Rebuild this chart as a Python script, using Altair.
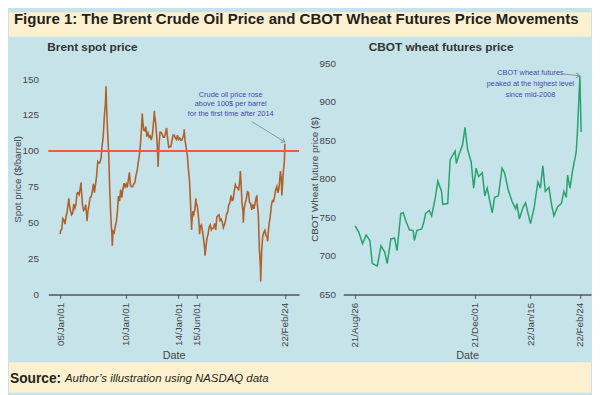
import altair as alt
import pandas as pd

# ---------------- data ----------------
# Brent spot price, monthly mid-month readings 2005-01 .. 2022-01
brent_monthly = [
    44.5, 45.5, 53, 52, 49, 54.5, 57.5, 64, 62.5, 58.5, 55.5, 56.5,          # 2005
    63, 60, 62.5, 70.5, 71, 69.5, 74, 73, 62.5, 58.5, 59.5, 62.5,            # 2006
    54, 58, 62, 67.5, 68, 71.5, 77, 71, 77, 82.5, 92.5, 91.5,                # 2007
    92, 95, 103.5, 110, 123.5, 133, 133, 113, 98, 72, 53, 41,                # 2008
    44, 43, 47, 50.5, 57.5, 68.5, 65, 73, 67.5, 73, 77.5, 75,                # 2009
    77, 74.5, 79.5, 85, 76, 75, 75, 77, 78, 83, 86, 91.5,                    # 2010
    96.5, 104, 114.5, 123, 114.5, 114, 117, 110, 112.5, 109.5, 110.5, 107.5, # 2011
    111, 119.5, 125.5, 119.5, 110.5, 95.5, 103, 113, 113, 111.5, 109.5, 109.5,  # 2012
    112.5, 116, 108.5, 102.5, 103, 103, 107.5, 111, 111, 109, 108, 111,      # 2013
    108, 109, 107.5, 107.5, 109.5, 112, 107, 102, 97, 87.5, 79, 62.5,        # 2014
    48, 58, 56, 59.5, 64.5, 62, 56.5, 47, 47.5, 48.5, 44, 38,                # 2015
    31, 33, 39, 42, 47, 48.5, 45, 46, 46.5, 49.5, 45, 54,                    # 2016
    55, 55.5, 51.5, 52.5, 50.5, 46.5, 48.5, 51.5, 56, 57.5, 62.5, 64,        # 2017
    69, 65.5, 66, 72, 76.5, 74.5, 74.5, 72.5, 78.9, 81, 64.5, 57.5,          # 2018
    59.5, 64, 66, 71.5, 71, 64, 63.5, 59, 62.8, 59.7, 63.2, 67.3,            # 2019
    63.6, 55.7, 32, 18.4, 29.4, 40.3, 43.2, 44.7, 40.9, 40.2, 42.7, 49.9,    # 2020
    54.8, 62.3, 65.4, 64.8, 68.5, 73.2, 75.2, 70.8, 74.5, 83.5, 81, 74.2,    # 2021
    86.5,                                                                    # 2022
]
brent_extra_dates = [
    "2005-01-03", "2005-09-01", "2006-08-08", "2007-01-18", "2008-07-03",
    "2008-12-24", "2011-04-08", "2012-03-13", "2012-06-22", "2014-06-19",
    "2015-01-13", "2015-05-13", "2015-08-24", "2016-01-20", "2018-10-03",
    "2018-12-24", "2020-01-06", "2020-04-21", "2020-11-02", "2021-10-25",
    "2021-12-01", "2022-02-10", "2022-02-24",
]
brent_extra_values = [
    42, 67, 78, 51, 145,
    34, 126, 128, 89, 115,
    45, 67, 42, 27, 86,
    50, 69, 9, 37, 86,
    69, 93, 105,
]

wheat_dates = [
    "2021-08-26", "2021-08-29", "2021-09-01", "2021-09-04", "2021-09-07", "2021-09-09",
    "2021-09-13", "2021-09-16", "2021-09-19", "2021-09-21", "2021-09-24", "2021-09-27",
    "2021-09-29", "2021-10-02", "2021-10-04", "2021-10-06", "2021-10-09", "2021-10-12",
    "2021-10-13", "2021-10-15", "2021-10-19", "2021-10-21", "2021-10-22", "2021-10-25",
    "2021-10-27", "2021-10-30", "2021-11-01", "2021-11-04", "2021-11-05", "2021-11-09",
    "2021-11-11", "2021-11-15", "2021-11-16", "2021-11-18", "2021-11-21", "2021-11-23",
    "2021-11-25", "2021-11-28", "2021-11-30", "2021-12-02", "2021-12-04", "2021-12-07",
    "2021-12-09", "2021-12-11", "2021-12-15", "2021-12-17", "2021-12-20", "2021-12-23",
    "2021-12-25", "2021-12-28", "2021-12-31", "2022-01-03", "2022-01-04", "2022-01-06",
    "2022-01-09", "2022-01-11", "2022-01-15", "2022-01-18", "2022-01-21", "2022-01-23",
    "2022-01-25", "2022-01-27", "2022-01-30", "2022-02-01", "2022-02-03", "2022-02-06",
    "2022-02-09", "2022-02-11", "2022-02-13", "2022-02-14", "2022-02-16", "2022-02-18",
    "2022-02-21", "2022-02-22", "2022-02-24", "2022-02-25",
]
wheat_values = [
    739, 731, 716, 727, 720, 690,
    687, 713, 705, 690, 722, 723,
    707, 755, 756, 746, 734, 733,
    720, 733, 735, 746, 755, 759,
    752, 776, 797, 784, 767, 768,
    825, 836, 820, 831, 844, 867,
    839, 822, 788, 814, 803, 808,
    778, 788, 756, 776, 778, 814,
    808, 786, 771, 761, 768, 748,
    763, 769, 742, 763, 796, 788,
    817, 784, 789, 767, 752, 764,
    768, 784, 776, 805, 788, 810,
    835, 861, 934, 861,
]

brent_xticks = ["2005-01-01", "2010-01-01", "2014-01-01", "2015-06-01", "2022-02-24"]
wheat_xticks = ["2021-08-26", "2021-12-01", "2022-01-15", "2022-02-24"]
brent_yticks = [0, 25, 50, 75, 100, 125, 150]
wheat_yticks = [650, 700, 750, 800, 850, 900, 950]
brent_ref_level = [100]

brent_note_lines = ["Crude oil price rose", "above 100$ per barrel", "for the first time after 2014"]
brent_note_date = "2018-01-06"
brent_note_values = [139.1, 132.4, 125.6]
brent_arrow = {"x1": ["2019-08-18"], "y1": [120.4], "x2": ["2022-02-23"], "y2": [106.2]}

wheat_note_lines = ["CBOT wheat futures", "peaked at the highest level", "since mid-2008"]
wheat_note_date = "2022-01-15"
wheat_note_values = [937.2, 923.2, 908.3]
wheat_arrow = {"x1": ["2022-02-09"], "y1": [936.3], "x2": ["2022-02-23T18:00:00"], "y2": [934.0]}

main_title = "Figure 1: The Brent Crude Oil Price and CBOT Wheat Futures Price Movements"
source_bold = "Source:"
source_rest = "Author\u2019s illustration using NASDAQ data"

# ---------------- styling ----------------
YELLOW = "#fcf0cf"
BLUE = "#c6e3ea"
BROWN = "#b0612b"
GREEN = "#25a36b"
RED = "#ea5a4e"
NOTE = "#4848a8"
ARROW = "#7e97a6"
TXT = "#444444"
FONT = "Liberation Sans"

W1, W2, H = 255, 252, 235


def ms(s):
    return int(pd.Timestamp(s).value // 1_000_000)


monthly_dates = [
    (d + pd.Timedelta(days=14)).strftime("%Y-%m-%d")
    for d in pd.date_range("2005-01-01", periods=len(brent_monthly), freq="MS")
]
brent = pd.DataFrame({
    "date": monthly_dates + brent_extra_dates,
    "value": brent_monthly + brent_extra_values,
}).sort_values("date")
wheat = pd.DataFrame({"date": wheat_dates, "value": wheat_values})

one = pd.DataFrame({"k": [0]})

x_axis_common = dict(
    labelAngle=270, labelPadding=4, tickSize=4, tickColor="#555555", domainColor="#555555",
    domainWidth=1.5, labelFontSize=10, labelColor=TXT, title="Date", titleFontSize=11,
    titleFontWeight="normal", titleColor=TXT, titlePadding=3, zindex=1, labelOverlap=False,
    labelExpr="utcFormat(datum.value, '%y/%b/%d')", grid=False, labelFont=FONT, titleFont=FONT,
)
y_axis_common = dict(
    domain=False, ticks=False, labelFontSize=10, labelColor=TXT, titleFontSize=10,
    titleFontWeight="normal", titleColor=TXT, titlePadding=0, grid=False, zindex=1,
    labelOverlap=False, labelFont=FONT, titleFont=FONT,
)


def px_rect(color, x1, x2, y1, y2):
    return alt.Chart(one).mark_rect(color=color).encode(
        x=alt.value(x1), x2=alt.value(x2), y=alt.value(y1), y2=alt.value(y2)
    )


def px_text(txt, x, y, size, weight="normal", style="normal", align="left", color="#222222"):
    return alt.Chart(one).mark_text(
        text=txt, fontSize=size, fontWeight=weight, fontStyle=style, align=align,
        baseline="middle", color=color, font=FONT,
    ).encode(x=alt.value(x), y=alt.value(y))


# ---------------- left panel ----------------
lx_scale = alt.Scale(domain=[ms("2004-02-06"), ms("2023-03-25")])
ly_scale = alt.Scale(domain=[0, 161], nice=False, zero=False)
lx_axis = alt.Axis(values=[ms(d) for d in brent_xticks], **x_axis_common)
ly_axis = alt.Axis(values=brent_yticks, title="Spot price ($/barrel)", labelPadding=10,
                   **y_axis_common)

# yellow bands above and below the blue panel (the chart background is blue)
left_top_band = px_rect(YELLOW, -40, W1, -52, -27)
left_bot_band = px_rect(YELLOW, -40, W1, 304, 335)

brent_line = alt.Chart(brent).mark_line(color=BROWN, strokeWidth=1.6).encode(
    x=alt.X("date:T", scale=lx_scale, axis=lx_axis),
    y=alt.Y("value:Q", scale=ly_scale, axis=ly_axis),
)
red_rule = alt.Chart(pd.DataFrame({"value": brent_ref_level})).mark_rule(
    color=RED, strokeWidth=2
).encode(y=alt.Y("value:Q", scale=ly_scale, axis=ly_axis))

brent_note = alt.Chart(pd.DataFrame({
    "date": [brent_note_date] * 3, "value": brent_note_values, "t": brent_note_lines,
})).mark_text(fontSize=7.5, color=NOTE, align="center", baseline="middle", font=FONT).encode(
    x=alt.X("date:T", scale=lx_scale, axis=lx_axis),
    y=alt.Y("value:Q", scale=ly_scale, axis=ly_axis),
    text="t:N",
)
ba = pd.DataFrame(brent_arrow)
brent_arrow_rule = alt.Chart(ba).mark_rule(color=ARROW, strokeWidth=1).encode(
    x=alt.X("x1:T", scale=lx_scale, axis=lx_axis), x2="x2:T",
    y=alt.Y("y1:Q", scale=ly_scale, axis=ly_axis), y2="y2:Q",
)
brent_arrow_head = alt.Chart(ba).mark_point(
    shape="M -1 -0.7 L 0 0 L -1 0.7", filled=False, strokeWidth=1, size=50,
    angle=32, color=ARROW, opacity=1,
).encode(
    x=alt.X("x2:T", scale=lx_scale, axis=lx_axis),
    y=alt.Y("y2:Q", scale=ly_scale, axis=ly_axis),
)

left_sub = px_text("Brent spot price", -1, -17, 12, weight="bold", color="#333333")
src1 = px_text(source_bold, -39, 321, 14, weight="bold", color="#231f20")
src2 = px_text(source_rest, 17, 321, 11.6, style="italic", color="#231f20")

left = alt.layer(
    brent_line, left_top_band, left_bot_band, red_rule, brent_note,
    brent_arrow_rule, brent_arrow_head, left_sub, src1, src2,
).properties(width=W1, height=H)

# ---------------- right panel ----------------
rx_scale = alt.Scale(domain=[ms("2021-08-16T11:00:00"), ms("2022-03-05T00:00:00")])
ry_scale = alt.Scale(domain=[650, 950], nice=False, zero=False)
rx_axis = alt.Axis(values=[ms(d) for d in wheat_xticks], **x_axis_common)
ry_axis = alt.Axis(values=wheat_yticks, title="CBOT Wheat future price ($)", labelPadding=8,
                   **y_axis_common)

right_top_band = px_rect(YELLOW, -45, W2, -52, -27)
right_bot_band = px_rect(YELLOW, -45, W2, 304, 335)

wheat_line = alt.Chart(wheat).mark_line(color=GREEN, strokeWidth=1.5).encode(
    x=alt.X("date:T", scale=rx_scale, axis=rx_axis),
    y=alt.Y("value:Q", scale=ry_scale, axis=ry_axis),
)
wheat_note = alt.Chart(pd.DataFrame({
    "date": [wheat_note_date] * 3, "value": wheat_note_values, "t": wheat_note_lines,
})).mark_text(fontSize=7.5, color=NOTE, align="center", baseline="middle", font=FONT).encode(
    x=alt.X("date:T", scale=rx_scale, axis=rx_axis),
    y=alt.Y("value:Q", scale=ry_scale, axis=ry_axis),
    text="t:N",
)
wa = pd.DataFrame(wheat_arrow)
wheat_arrow_rule = alt.Chart(wa).mark_rule(color=ARROW, strokeWidth=1).encode(
    x=alt.X("x1:T", scale=rx_scale, axis=rx_axis), x2="x2:T",
    y=alt.Y("y1:Q", scale=ry_scale, axis=ry_axis), y2="y2:Q",
)
wheat_arrow_head = alt.Chart(wa).mark_point(
    shape="M -1 -0.7 L 0 0 L -1 0.7", filled=False, strokeWidth=1, size=50,
    angle=6, color=ARROW, opacity=1,
).encode(
    x=alt.X("x2:T", scale=rx_scale, axis=rx_axis),
    y=alt.Y("y2:Q", scale=ry_scale, axis=ry_axis),
)
right_sub = px_text("CBOT wheat futures price", 99.5, -17, 12, weight="bold", align="center",
                    color="#333333")
# main title lives in the right panel so it is drawn after every band
title_txt = px_text(main_title, 13 - 348, -45, 15.3, weight="bold", color="#231f20")

right = alt.layer(
    wheat_line, right_top_band, right_bot_band, wheat_note, wheat_arrow_rule,
    wheat_arrow_head, right_sub, title_txt,
).properties(width=W2, height=H)

chart = alt.hconcat(left, right, spacing=45, bounds="flush").properties(
    padding=0, background=BLUE
).configure(font=FONT).configure_view(stroke="transparent")

chart.save("out.html", embed_options={"renderer": "svg", "actions": False})
